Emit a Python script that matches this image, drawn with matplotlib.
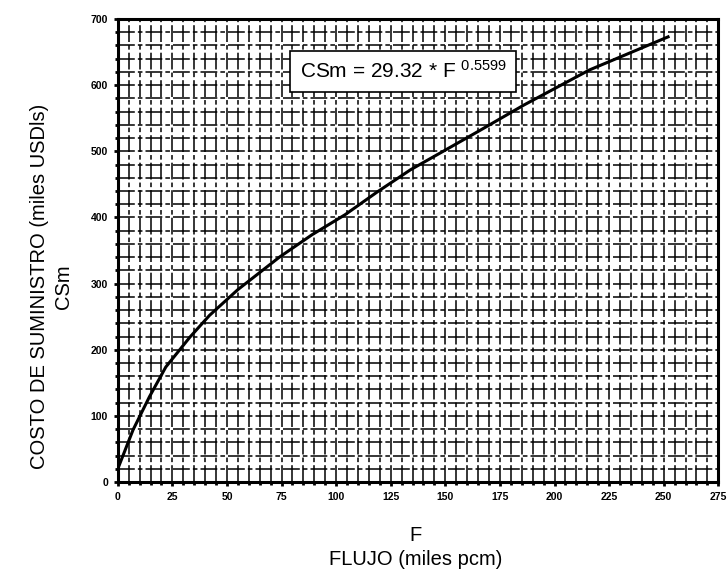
import numpy as np
import matplotlib
matplotlib.use('Agg')
import matplotlib.pyplot as plt
from matplotlib.ticker import MultipleLocator

plt.rcParams['font.family'] = ['Liberation Sans', 'DejaVu Sans']
plt.rcParams['mathtext.default'] = 'regular'

# curve
flujo = [0, 7, 14.5, 22, 33, 42, 55, 74, 89, 104, 119, 134, 149, 165, 186, 216, 252]
csm = [20, 79, 129, 174, 219, 252, 291, 340, 374, 404, 439, 472, 500, 530, 570, 623, 673]

x_ticks = [0, 25, 50, 75, 100, 125, 150, 175, 200, 225, 250, 275]
y_ticks = [0, 100, 200, 300, 400, 500, 600, 700]

fig = plt.figure(figsize=(7.27, 5.76), dpi=100)
ax = fig.add_axes([0.162, 0.163, 0.826, 0.804])

ax.plot(flujo, csm, color='black', lw=2.2, zorder=4)

ax.set_xlim(0, 275)
ax.set_ylim(0, 700)
ax.set_xticks(x_ticks)
ax.set_yticks(y_ticks)
ax.xaxis.set_minor_locator(MultipleLocator(5))
ax.yaxis.set_minor_locator(MultipleLocator(20))

ax.grid(which='both', color='black', lw=1.1, ls=(0, (11, 2, 3, 2)))
ax.set_axisbelow(True)
for sp in ax.spines.values():
    sp.set_linewidth(2.2)

ax.tick_params(which='major', direction='out', length=3, width=2, labelsize=7.5, pad=4)
ax.tick_params(which='minor', direction='out', length=2, width=2)
for lab in ax.get_xticklabels() + ax.get_yticklabels():
    lab.set_fontweight('bold')

ax.text(0.303, 0.887, 'CSm = 29.32 * F $^{0.5599}$', transform=ax.transAxes,
        fontsize=15, ha='left', va='center', zorder=5,
        bbox=dict(boxstyle='square,pad=0.45', fc='white', ec='black', lw=1.2))

fig.text(0.055, 0.503, 'COSTO DE SUMINISTRO (miles USDls)', rotation=90,
         ha='center', va='center', fontsize=14.5)
fig.text(0.087, 0.503, 'CSm', rotation=90, ha='center', va='center', fontsize=14.5)
fig.text(0.571, 0.071, 'F', ha='center', va='center', fontsize=14.5)
fig.text(0.572, 0.028, 'FLUJO (miles pcm)', ha='center', va='center', fontsize=14.5)

fig.savefig('out.png', dpi=100)
